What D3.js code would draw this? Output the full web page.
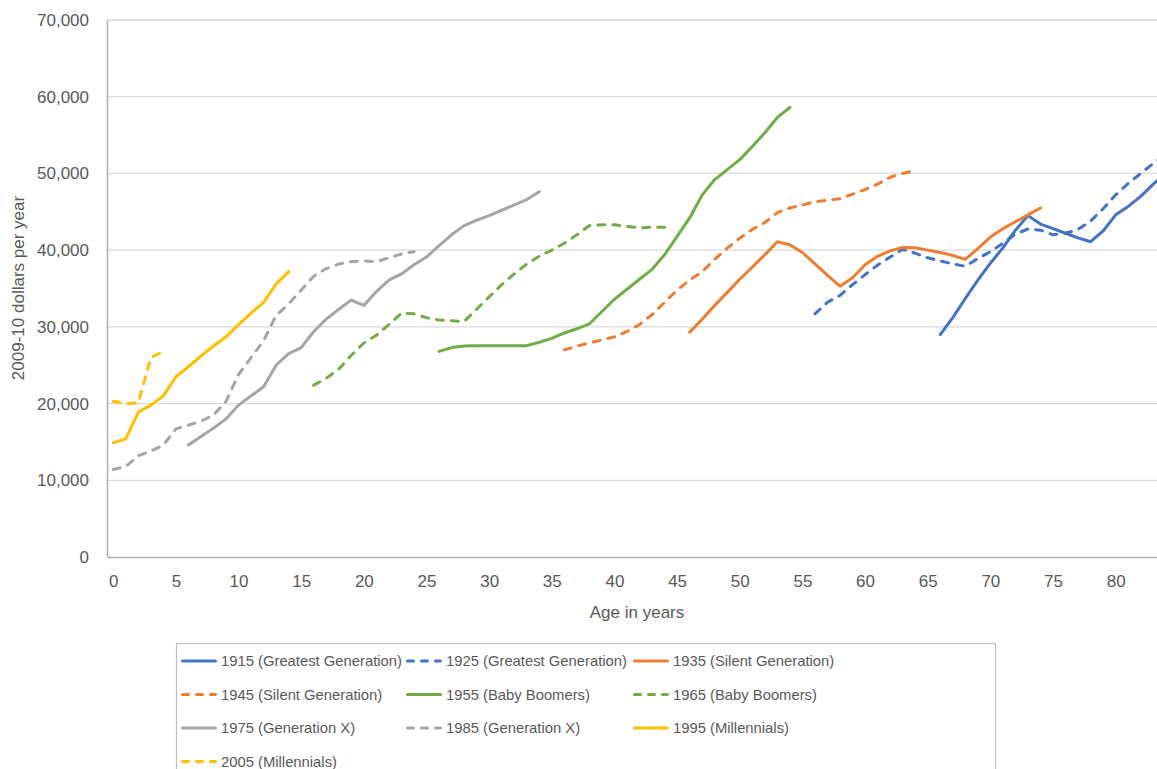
<!DOCTYPE html>
<html>
<head>
<meta charset="utf-8">
<script src="https://d3js.org/d3.v7.min.js"></script>
<style>
  body { margin: 0; background: #fff; }
  text { font-family: "Liberation Sans", Arial, sans-serif; fill: #595959; }
</style>
</head>
<body>
<div id="my_dataviz"></div>
<script>

// series names (legend order) and first age of each series
var seriesNames = ["1915 (Greatest Generation)", "1925 (Greatest Generation)", "1935 (Silent Generation)",
                   "1945 (Silent Generation)", "1955 (Baby Boomers)", "1965 (Baby Boomers)",
                   "1975 (Generation X)", "1985 (Generation X)", "1995 (Millennials)", "2005 (Millennials)"];
var startAges = [66, 56, 46, 36, 26, 16, 6, 0, 0, 0];

// values, one per year of age
var v1915 = [29000, 31200, 33700, 36100, 38300, 40300, 42600, 44500, 43400, 42800, 42200, 41600, 41100, 42500,
             44600, 45700, 47000, 48600, 50000];
var v1925 = [31700, 33200, 34100, 35500, 36800, 38050, 39100, 40100, 39600, 39000, 38600, 38200, 37900, 38900,
             39800, 40900, 42100, 42750, 42600, 42000, 42200, 42700, 43800, 45400, 47200, 48700, 50000, 51300, 52500];
var v1935 = [29300, 31000, 32800, 34500, 36200, 37800, 39400, 41100, 40700, 39700, 38200, 36700, 35300, 36400,
             38100, 39200, 39900, 40350, 40300, 40000, 39700, 39300, 38800, 40200, 41700, 42800, 43700, 44600, 45500];
var v1945 = [27000, 27500, 27900, 28300, 28700, 29400, 30300, 31600, 33200, 34800, 36100, 37200, 38800, 40260,
             41560, 42700, 43600, 44900, 45500, 45900, 46300, 46500, 46700, 47300, 47900, 48600, 49500, 50000, 50400];
var v1955 = [26800, 27300, 27500, 27550, 27550, 27550, 27550, 27550, 28000, 28500, 29200, 29750, 30400, 32000,
             33600, 34900, 36200, 37500, 39400, 41800, 44200, 47200, 49200, 50500, 51800, 53500, 55300, 57300, 58600];
var v1965 = [22400, 23300, 24500, 26300, 27900, 28900, 30300, 31800, 31700, 31200, 30900, 30800, 30700, 32300,
             33900, 35500, 36900, 38200, 39200, 40000, 40900, 42000, 43200, 43300, 43300, 43100, 42900, 43000, 43000];
var v1975 = [14600, 15700, 16800, 18000, 19800, 21000, 22200, 25000, 26500, 27300, 29400, 31000, 32300, 33500,
             32800, 34600, 36100, 36900, 38100, 39100, 40600, 42000, 43200, 43900, 44500, 45200, 45900, 46600, 47600];
var v1985 = [11400, 11800, 13200, 13800, 14600, 16700, 17200, 17700, 18500, 20300, 23800, 26000, 28200, 31500,
             33000, 34800, 36600, 37600, 38200, 38500, 38600, 38500, 39000, 39500, 39800];
var v1995 = [14900, 15400, 18900, 19800, 21000, 23500, 24800, 26200, 27500, 28700, 30300, 31800, 33200, 35600, 37200];
var v2005 = [20300, 20000, 20100, 26000, 26800];

var allValues = [v1915, v1925, v1935, v1945, v1955, v1965, v1975, v1985, v1995, v2005];

var yTicks = [0, 10000, 20000, 30000, 40000, 50000, 60000, 70000];
var xTicks = [0, 5, 10, 15, 20, 25, 30, 35, 40, 45, 50, 55, 60, 65, 70, 75, 80];

// styles
var colors = ["#4472C4", "#4472C4", "#ED7D31", "#ED7D31", "#70AD47", "#70AD47", "#A5A5A5", "#A5A5A5", "#FFC000", "#FFC000"];
var dashed = [false, true, false, true, false, true, false, true, false, true];

var W = 1157, H = 769;
var plot = {left: 107, top: 20, bottom: 557};
var band = 12.53;

var svg = d3.select("#my_dataviz")
  .append("svg")
    .attr("width", W)
    .attr("height", H);

// category axis: each age takes one band, value drawn at the band centre
var x = d3.scaleLinear()
  .domain([-0.5, 84.5])
  .range([plot.left, plot.left + 85 * band]);
var y = d3.scaleLinear()
  .domain([0, 70000])
  .range([plot.bottom, plot.top]);

// gridlines
svg.append("g").selectAll("line")
  .data(yTicks.slice(1))
  .enter().append("line")
    .attr("x1", plot.left).attr("x2", W)
    .attr("y1", function(d) { return y(d); })
    .attr("y2", function(d) { return y(d); })
    .attr("stroke", "#d9d9d9")
    .attr("stroke-width", 1.3);

// y axis
var yAxis = svg.append("g")
  .attr("transform", "translate(" + plot.left + ",0)")
  .call(d3.axisLeft(y).tickValues(yTicks).tickSize(0).tickPadding(18).tickFormat(d3.format(",")));
yAxis.select(".domain").attr("stroke", "#b0b0b0").attr("stroke-width", 1.5);
yAxis.selectAll("text").style("font-size", "17px").attr("fill", "#595959");

// x axis
var xAxis = svg.append("g")
  .attr("transform", "translate(0," + plot.bottom + ")")
  .call(d3.axisBottom(x).tickValues(xTicks).tickSize(0).tickPadding(18).tickFormat(d3.format("d")));
xAxis.select(".domain").attr("stroke", "#b0b0b0").attr("stroke-width", 1.5);
xAxis.selectAll("text").style("font-size", "17px").attr("fill", "#595959");

// axis titles
svg.append("text")
  .attr("x", 637).attr("y", 618)
  .attr("text-anchor", "middle")
  .style("font-size", "17px")
  .text("Age in years");
svg.append("text")
  .attr("transform", "translate(24,288) rotate(-90)")
  .attr("text-anchor", "middle")
  .style("font-size", "17px")
  .text("2009-10 dollars per year");

// lines
var line = d3.line()
  .x(function(d) { return x(d.age); })
  .y(function(d) { return y(d.value); });

allValues.forEach(function(vals, i) {
  var pts = vals.map(function(v, k) { return {age: startAges[i] + k, value: v}; });
  svg.append("path")
    .datum(pts)
    .attr("fill", "none")
    .attr("stroke", colors[i])
    .attr("stroke-width", 3)
    .attr("stroke-linejoin", "round")
    .attr("stroke-linecap", "round")
    .attr("stroke-dasharray", dashed[i] ? "7,8" : null)
    .attr("d", line);
});

// legend
var legend = svg.append("g");
legend.append("rect")
  .attr("x", 176.5).attr("y", 643.5)
  .attr("width", 819).attr("height", 160)
  .attr("fill", "none")
  .attr("stroke", "#bfbfbf")
  .attr("stroke-width", 1.2);

var colX = [181, 406, 633];
var item = legend.selectAll(".item")
  .data(seriesNames)
  .enter().append("g")
    .attr("class", "item")
    .attr("transform", function(d, i) {
      return "translate(" + colX[i % 3] + "," + (661 + Math.floor(i / 3) * 33.5) + ")";
    });
item.append("line")
  .attr("x1", 1.5).attr("x2", 34.5)
  .attr("stroke", function(d, i) { return colors[i]; })
  .attr("stroke-width", 3)
  .attr("stroke-linecap", "round")
  .attr("stroke-dasharray", function(d, i) { return dashed[i] ? "6,8" : null; });
item.append("text")
  .attr("x", 40)
  .attr("dy", "0.35em")
  .style("font-size", "14.8px")
  .text(function(d) { return d; });

</script>
</body>
</html>
